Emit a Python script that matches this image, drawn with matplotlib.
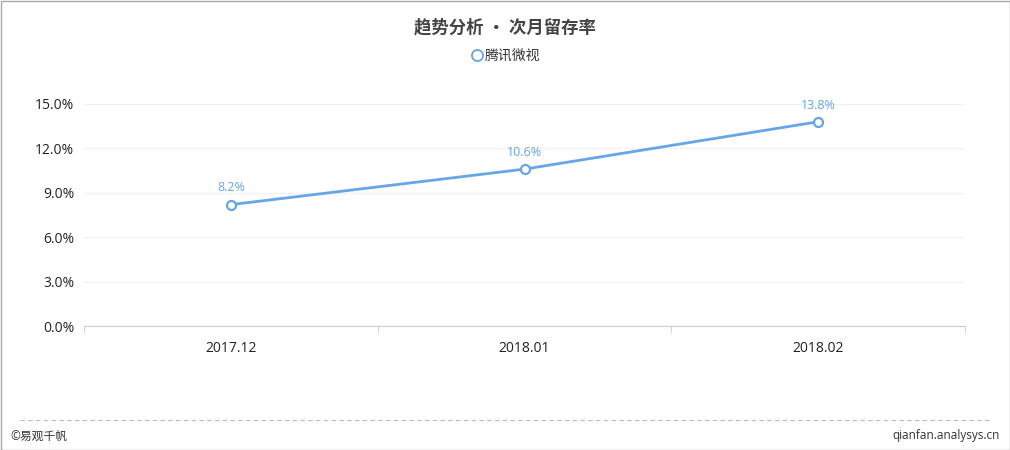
import matplotlib
matplotlib.use("Agg")
import matplotlib.pyplot as plt
from matplotlib.lines import Line2D
import numpy as np

plt.rcParams['font.family'] = ['Open Sans', 'Noto Sans CJK SC', 'DejaVu Sans']

# 数据
months = ['2017.12', '2018.01', '2018.02']
retention = [8.2, 10.6, 13.8]
series_name = '腾讯微视'
y_ticks = [0, 3, 6, 9, 12, 15]

line_color = '#66a6e8'
text_color = '#333333'

fig = plt.figure(figsize=(10.1, 4.5), dpi=100)
fig.patch.set_facecolor('white')

ax = fig.add_axes([84 / 1010, 1 - 326 / 450, (965 - 84) / 1010, (326 - 104) / 450])

x = np.arange(len(months))
ax.plot(x, retention, color=line_color, lw=2.0, marker='o', ms=6.5,
        mfc='white', mec=line_color, mew=1.6, zorder=3, clip_on=False)
for xi, v in zip(x, retention):
    ax.annotate(f'{v:.1f}%', (xi, v), xytext=(0, 12), textcoords='offset points',
                ha='center', va='center', color=line_color, fontsize=9)

ax.set_xlim(-0.5, len(months) - 0.5)
ax.set_ylim(0, 15)
ax.set_yticks(y_ticks)
ax.set_yticklabels([f'{t:.1f}%' for t in y_ticks], fontsize=10, color='#222222')
ax.set_xticks(x)
ax.set_xticklabels(months, fontsize=10, color='#222222')
ax.tick_params(axis='x', length=0, pad=11)
ax.tick_params(axis='y', length=0, pad=7)
# 分类边界刻度
ax.set_xticks(np.arange(-0.5, len(months)), minor=True)
ax.tick_params(axis='x', which='minor', length=5, color='#cccccc', direction='out')

ax.grid(axis='y', color='#f2f2f2', lw=1)
ax.set_axisbelow(True)
for s in ['top', 'right', 'left']:
    ax.spines[s].set_visible(False)
ax.spines['bottom'].set_color('#cccccc')

fig.text(0.5, 1 - 27 / 450, '趋势分析 • 次月留存率', ha='center', va='center',
         fontsize=12.5, fontweight='bold', color='#444444',
         family=['Noto Sans CJK SC', 'DejaVu Sans'])

handle = Line2D([], [], color=line_color, marker='o', ls='none', ms=8,
                mfc='white', mew=1.3)
fig.legend([handle], [series_name], loc='center', bbox_to_anchor=(0.5, 1 - 56 / 450),
           frameon=False, fontsize=10, handletextpad=0.1, handlelength=1.0,
           labelcolor=text_color)

# 底部虚线与版权
fig.add_artist(Line2D([20 / 1010, 990 / 1010], [1 - 420 / 450] * 2, color='#bbbbbb',
                      lw=0.8, ls=(0, (4, 3))))
fig.text(10 / 1010, 1 - 436 / 450, '©易观千帆', ha='left', va='center',
         fontsize=8.5, color=text_color)
fig.text(1000 / 1010, 1 - 436 / 450, 'qianfan.analysys.cn', ha='right', va='center',
         fontsize=8.5, color=text_color)

# 外框
fig.add_artist(plt.Rectangle((0.5 / 1010, 0.5 / 450), 1 - 1 / 1010, 1 - 1 / 450,
                             transform=fig.transFigure, fill=False,
                             ec='#aaaaaa', lw=1))

fig.savefig('out.png', dpi=100, facecolor='white')
